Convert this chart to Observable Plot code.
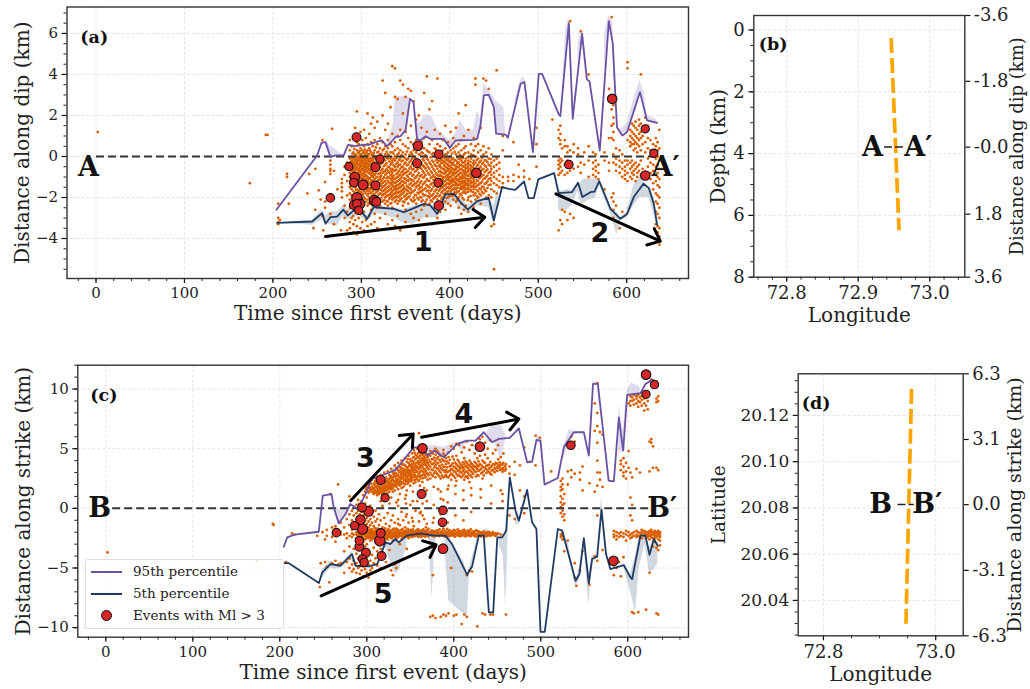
<!DOCTYPE html>
<html><head><meta charset="utf-8">
<script src="https://cdn.jsdelivr.net/npm/d3@7"></script>
<script src="https://cdn.jsdelivr.net/npm/@observablehq/plot@0.6"></script>
<style>
html,body{margin:0;padding:0;background:#fff}
#root{position:relative;width:1030px;height:689px;overflow:hidden}
#root svg{position:absolute;background:transparent;overflow:visible}
#legend{position:absolute;left:85px;top:559px;width:199px;height:70px;box-sizing:border-box;background:rgba(255,255,255,.8);border:1px solid #ddd;border-radius:3px;font:13.5px "DejaVu Serif";color:#222;z-index:5}
#legend div{position:absolute;left:47px;white-space:nowrap}
#legend i{position:absolute;left:5px;width:31px;height:2px}
#legend b{position:absolute;left:15px;top:50px;width:9px;height:9px;border-radius:50%;background:#d62728;border:1px solid #111}
</style></head><body><div id="root"><div id="legend">
<i style="top:11px;background:#6a51a3"></i><div style="top:3px">95th percentile</div>
<i style="top:33px;background:#1f3b63"></i><div style="top:25px">5th percentile</div>
<b></b><div style="top:47px">Events with Ml &gt; 3</div></div></div>
<script>
const eventDay=[265,286,291.5,291.5,292.7,294.5,295,295,297,299,302,316,321,316,315,317,364,363,387.6,387,387.6,430,534.6,583.6,621,621,630.7];
const eventMl=[3.3,3.2,3.3,3.4,3.6,3.4,3.9,3.3,3.2,3.4,3.7,3.4,3.2,3.4,3.9,3.4,3.6,3.4,3.3,3.3,3.6,3.6,3.3,3.6,3.2,3.6,3.2];
const eventDip=[-2.02,-.49,-1.28,-2.37,-1,.94,-2.02,-2.3,-2.63,-2.31,-1.38,-.52,-.13,-1.41,-2.15,-2.21,.52,-.33,.11,-1.28,-2.39,-.8,-.39,2.81,1.35,-.93,.16];
const eventStrike=[-2.04,-1.45,-2.71,-3.22,-.95,.08,-1.73,-4.25,-4.53,-3.72,-.25,2.38,.89,-2.07,-2.71,-4,5.03,1.2,-.17,-1.17,-3.38,5.17,5.29,-4.39,9.56,11.21,10.37];

const a95=[[204,-2.6],[250,.05],[255,.67],[259.5,.7],[265,-.03],[271,.05],[280,.05],[285,.57],[293.4,.5],[303,.58],[308.5,.57],[316,.7],[323.5,.78],[329,.49],[338.6,.94],[344,.98],[350,1.27],[355,2.81],[359,2.65],[363,.86],[367,.78],[372.5,.99],[378,.86],[386,.86],[393,.86],[400,.42],[406.5,.78],[427,.81],[431,.86],[434.7,1.51],[438.5,2.98],[444,3],[449.8,2.41],[452.4,1.11],[463,1.07],[465.6,.91],[480,3.54],[484.4,3.63],[494,.21],[500.6,4.03],[504.4,4.03],[523,2.08],[525,1.97],[534.6,6.5],[539,1.84],[549.6,5.98],[555,3.76],[558,3.66],[569.6,.29],[579.8,6.6],[584.3,5.5],[589,1.43],[595,1.02],[600.5,1.19],[615,3.14],[623,1.76],[634.4,1.64]];
const a5=[[204.8,-3.24],[244.4,-3.17],[255.7,-2.76],[259.5,-3.28],[265,-2.96],[272.7,-2.93],[279.5,-2.59],[284.7,-2.88],[291.5,-2.63],[299,-2.63],[306.6,-3.04],[314,-2.47],[321.7,-2.5],[336.8,-2.55],[348,-2.72],[359.4,-2.52],[370.7,-2.31],[378,-2.39],[385.8,-2.8],[395,-1.85],[404.6,-1.82],[412,-2.23],[420.4,-2.59],[431,-2.18],[444,-2.02],[449.8,-3.12],[459,-1.5],[466.7,-1.58],[474,-1.63],[484,-1.22],[489,-2.03],[495,-2.03],[500,-1.12],[518,-.81],[523,-1.79],[538,-1.74],[545,-1.28],[550,-1.98],[559,-1.74],[563.6,-1.71],[569,-1.2],[581.7,-2.55],[593,-3.04],[600.5,-2.8],[608,-1.98],[619,-1.33],[625,-1.53],[630.7,-2.31],[634.4,-3.32]];
const a95Band=[
[[260,.7,.75],[265,-.03,.5],[272,.05,.3],[280,.05,.05]],
[[329,.49,.7],[336,.9,1.5],[338.6,.94,2.93],[351,1.25,2.94],[355,2.8,2.85],[359,2.6,2.7],[363,.86,1.6],[367,.78,1.7],[373,.99,2.05],[380,.86,1.92],[387,.86,1.27],[393,.86,1.05],[400,.42,.78],[406,.78,1.1],[412,.8,1.76],[419,.8,1.27],[427,.81,1.3],[431,.86,2.24],[434.7,1.51,1.8],[438.5,2.98,3.6],[444,3,3.2],[449.8,2.41,2.9],[452.4,1.11,2.7],[461,1.07,2.4],[463,1.07,1.2]],
[[474,2.5,2.8],[480,3.5,3.7],[484,3.6,3.9],[488,2.5,2.7]],
[[527,2,2.8],[531,4.5,6.2],[534.6,6.5,6.8],[537,3.5,3.8]],
[[545,4.5,5.5],[549.6,5.98,6.3],[552,4.5,5]],
[[575,4,6],[579.8,6.6,6.9],[584.3,5.5,6.6],[587,2.5,3.5]],
[[592,1.1,1.3],[600.5,1.19,1.6],[608,2,2.8],[615,3.14,3.7],[620,2.2,3.1],[623,1.76,2],[634,1.64,1.8]]];
const a5Band=[
[[215,-3.25,-3.2],[244,-3.35,-3.12],[255.7,-3.1,-2.6],[259.5,-3.28,-2.9],[265,-3.3,-2.7],[272.7,-3.4,-2.7],[279.5,-2.9,-2.4],[284.7,-3.1,-2.6],[291.5,-2.9,-2.4],[299,-2.9,-2.5],[306.6,-3.2,-2.9],[314,-2.8,-2.4],[321.7,-2.8,-2.4],[336.8,-3,-2.5],[348,-3.25,-2.6],[359.4,-3.3,-2.4],[370.7,-3,-2.3],[378,-3,-2.3],[385.8,-3,-2.6],[395,-2.4,-1.8],[404.6,-2.2,-1.75],[412,-2.6,-2],[420.4,-2.8,-2.4],[431,-2.4,-2.1],[444,-2.5,-2],[449.8,-3.3,-2.4],[455,-2.2,-1.5]],
[[523,-2.6,-1.6],[527,-2.7,-1.7],[533,-2.6,-1.6],[538,-2.4,-1.7],[545,-1.7,-1.3],[548,-2.3,-1.3],[551,-2.3,-1.1],[559,-2.1,-1.1],[565,-2,-1.1],[569,-1.4,-1.15],[581.7,-2.8,-2.5],[589,-3.8,-2.7],[593,-3.1,-3],[600,-3,-2.7],[608,-2.4,-1.4],[615,-2,-1],[619,-2,-1.2],[625,-2,-1.5],[630.7,-2.8,-2],[634.4,-3.4,-2.9]]];

const c95=[[204.6,-3.22],[208.5,-2.43],[217,-2.21],[244.8,-1.96],[249.4,1.06],[259.4,1.2],[262,.08],[267.8,-1.26],[275.5,-.48],[281,.36],[289.7,-.06],[296.6,.92],[300.5,1.48],[305,2.46],[319.6,2.82],[333,3.22],[354,5.12],[363.7,5.12],[370,4.42],[377,4.84],[388.6,4.28],[404,5.4],[415.4,5.68],[425,5.68],[434.5,6.38],[444,5.54],[451.8,5.82],[464.4,5.9],[474.8,6.71],[484.3,3.86],[490,3.91],[495,5.73],[499.7,5.68],[504.3,1.99],[519.6,2.54],[526.5,5.12],[538,6.38],[549.5,6.38],[555.2,4.42],[560,10.43],[565.6,10.43],[578,2.32],[584,2.27],[589.7,7.63],[594.7,4.84],[599.3,9.51],[614.6,9.65],[620.3,10.43],[628,10.77],[633.7,10.65]];
const c5=[[204.6,-4.59],[210,-4.59],[245,-6.26],[248.7,-5.37],[258.3,-4.67],[269.8,-4.81],[283,-3.83],[287,-4.81],[302.3,-4.87],[312,-4.67],[321.5,-2.85],[327,-2.99],[333,-2.57],[336.8,-2.85],[346,-2.29],[361.7,-2.1],[377,-2.29],[390.4,-2.29],[398,-2.99],[415.3,-5.56],[421,-4.87],[428.7,-2.29],[434.5,-2.29],[440.3,-8.72],[445.3,-8.72],[450,-2.43],[455.6,-2.43],[460.2,-1.87],[464.4,2.6],[471,-.2],[474.8,-1.03],[484.3,1.54],[490,-1.17],[495,-1.73],[499.7,-10.35],[504.6,-10.35],[519.6,-1.73],[524.6,-1.87],[540,-6.07],[544.5,-5.5],[549.5,-2.49],[555.2,-6.29],[559,-4.25],[564.8,-4.05],[569.8,-.11],[575,-3.83],[580,-5.09],[595.4,-4.75],[603,-5.79],[605,-5.93],[614.6,-2.29],[620.3,-2.29],[625,-3.89],[630,-2.57],[634.5,-3.13]];
const c95Band=[
[[262,.08,.08],[268,-1.26,-.1],[275.5,-.48,-.1],[281,.36,.4]],
[[330,3,3.3],[333,3.22,3.8],[337,3.1,3.3]],
[[364,5,5.3],[370,4.42,5.2],[377,4.84,5.3],[389,4.28,5.1],[397,5,5.4],[404,5.4,5.5],[410,4.7,5.6],[415,5.7,5.8]],
[[438,5.6,6.4],[447,5.6,7.2],[454,4,7],[460,5.8,6.2]],
[[495,5.7,6.2],[500,5.4,5.9]],
[[526,4,5.2],[533,5.6,6.6],[538,6.3,6.5]],
[[560,10.4,10.7],[565,10.3,10.5],[568,8,9]],
[[589.7,4.5,8.7],[594.7,4.8,6.5],[599,9.5,9.8],[604,9.4,10.5],[614,9.6,10.2]]];
const c5Band=[
[[248.7,-5.9,-5.2],[258,-5,-4.4],[264,-5.1,-4.7],[270,-5,-4.7],[283,-4.3,-3.6],[287,-4.8,-4.6]],
[[321,-3.2,-2.8],[327,-4.5,-2.9],[333,-5.5,-2.5],[337,-5.2,-2.8],[346,-3.2,-2.3]],
[[371,-2.3,-2.2],[373,-4.6,-2.2],[375,-7.6,-2.2],[378,-3.2,-2.2],[381,-2.3,-2.2]],
[[390,-3.5,-2.3],[394.3,-7.75,-2.3],[398,-8,-2.9],[411.6,-8.87,-4.5],[415.4,-9.14,-5.5],[418,-5.6,-5],[428,-2.5,-2.2]],
[[431,-2.3,-2.2],[434.5,-2.3,-1.8],[438,-2.3,-1.7],[444,-2.4,-2.2]],
[[452,-3,-2.4],[457,-4,-2.4],[459.4,-8.17,-2.1],[461,-6,-1.9],[463,-.5,1.5]],
[[471,-1.4,-.2],[475,-1.3,-1],[480,-.2,.5]],
[[524,-2.2,-1.7],[532,-3.8,-3],[540,-6.6,-6],[544.5,-6,-5],[549.5,-3,-2.4],[555.2,-8.17,-5.5],[559,-4.6,-4],[565,-4.1,-4],[569.8,-.2,1],[575,-3.9,-3.3]],
[[595,-4.8,-4.7],[603,-7,-5.5],[609,-8.72,-4],[613,-5,-2.3],[620,-3,-2.2],[625,-5.5,-3.3],[630,-5.1,-2.5],[634.5,-4.67,-3]]];

const aEvents=[[2,1.2],[174,-1.3],[192,1.05],[194,1.05],[206,-2.3,-3,-3.2,-3.3],[208,-3.1],[216,-.85,-1],[218,-2.3],[239,-1.8],[241,-.85],[246,-3.5],[248,-.6,-2.6],[252,-1.65],[254,-2.1],[256,.8,-2.9],[257,-3.6],[259,-1.25,-2.2,-2.5],[265,-.2,-.4,-.6,-.7,-.85,-2.8],[267,1.35],[269,-.7,-3.3],[273,-1.6],[277,-3.6],[278,-1.1,-1.3,-1.5,-1.7,-2],[281,-.5,-.9,-2.4,-3],[284,-.3,-1.2,-1.9,-2.7,-3.6],
[287,.8,.3,-.1,-.6,-.8,-1,-1.5,-1.8,-2.1,-2.5,-3.2,-3.5],[289,.5,-.2,-.4,-.7,-1.1,-1.4,-1.6,-1.9,-2.2,-3],[291,.9,.2,-.1,-.3,-.5,-.6,-.8,-1.2,-1.7,-2,-2.3,-2.9,-3.3,-3.7],[293,1.4,.1,-.2,-.4,-.7,-.9,-1.1,-1.3,-1.5,-1.8,-2.4,-3.1],
[295,2.2,.7,.3,-.1,-.3,-.5,-.8,-1,-1.2,-1.6,-1.9,-2.1,-2.6,-3.4,-3.8],[297,.6,.2,0,-.2,-.4,-.6,-.7,-.9,-1.1,-1.4,-1.7,-2,-2.5,-3],[299,1.2,.4,.1,-.1,-.3,-.5,-.7,-.8,-1,-1.3,-1.5,-1.8,-2.2,-2.8,-3.5],[301,.8,.3,0,-.2,-.4,-.6,-.9,-1.1,-1.2,-1.6,-1.9,-2.1,-2.4,-3.2],[303,1.3,.5,.2,-.1,-.3,-.5,-.7,-.8,-1,-1.4,-1.7,-2,-2.3,-2.7,-3.6],[305,.9,.1,-.2,-.4,-.6,-.9,-1.1,-1.3,-1.5,-1.8,-2.2,-3.1],[307,2.1,.6,.3,0,-.1,-.3,-.5,-.7,-1,-1.2,-1.4,-1.6,-1.9,-2.1,-2.4,-3.4],[309,1.1,.4,.1,-.2,-.4,-.6,-.8,-1.1,-1.3,-1.7,-2,-2.3,-2.9],
[311,1.6,.7,.2,-.1,-.3,-.5,-.7,-.9,-1.2,-1.4,-1.6,-1.8,-2.2,-2.6,-3.3],[313,1.9,.5,.1,-.2,-.4,-.6,-.8,-1,-1.3,-1.5,-1.7,-2,-2.4],[315,1.4,.8,.3,0,-.3,-.5,-.9,-1.1,-1.4,-1.6,-1.9,-2.1,-2.3,-2.8,-3.2],[318,1.7,.6,.2,-.1,-.4,-.6,-.7,-1,-1.2,-1.5,-1.7,-2,-2.2,-2.5,-3.5],[321,.9,.4,.1,-.2,-.5,-.8,-1,-1.1,-1.3,-1.6,-1.8,-2.1,-2.4,-3],[324,2,3.7,.7,.3,0,-.3,-.6,-.8,-1.1,-1.3,-1.5,-1.7,-1.9,-2.2],[327,3.1,1.3,.5,.1,-.2,-.4,-.7,-.9,-1.2,-1.4,-1.6,-1.8,-2,-2.3,-2.8],[330,1.6,.8,.4,.1,-.1,-.5,-.7,-1,-1.2,-1.5,-1.7,-1.9,-2.2,-2.4,-3.3],[333,2.4,.6,.2,-.1,-.4,-.6,-.9,-1.1,-1.3,-1.6,-1.8,-2,-2.3],[335,4.4,1.1,.5,.2,-.2,-.3,-.6,-.8,-1,-1.2,-1.4,-1.7,-1.9,-2.1,-2.5,-3.1],[338,4.3,2.9,.7,.3,0,-.2,-.5,-.7,-1.1,-1.3,-1.5,-1.6,-1.8,-2,-2.2,-3.4],[341,2.8,1,.4,.1,-.3,-.5,-.8,-1,-1.2,-1.4,-1.6,-1.8,-2,-2.3,-2.9],[344,3.7,1.3,.8,.3,-.1,-.4,-.6,-.9,-1.1,-1.3,-1.5,-1.7,-1.9,-2.1,-3.6],[347,3.5,2.1,.6,.2,-.2,-.5,-.7,-.9,-1.2,-1.4,-1.6,-1.8,-2.2,-2.4],[350,2.9,1.2,.5,.1,-.1,-.3,-.6,-.8,-1.1,-1.3,-1.6,-1.9,-2.1,-2.6,-3.2],[353,3.3,.9,.4,-.1,-.4,-.7,-1,-1.2,-1.5,-1.7,-2,-2.3],[356,3.2,1.5,.7,.2,-.2,-.5,-.8,-1.1,-1.3,-1.6,-1.8,-2.1,-2.8],[359,2.7,.6,.3,0,-.3,-.6,-.9,-1.2,-1.4,-1.7,-2,-2.2,-3],[362,1.8,.8,.2,-.1,-.5,-.7,-1,-1.3,-1.5,-1.9,-2.3,-2.7],
[365,2,.5,.1,-.2,-.4,-.8,-1.1,-1.4,-1.6,-1.8,-2.1,-3.1],[368,1.4,.7,.2,-.3,-.6,-.9,-1.2,-1.5,-1.7,-2,-2.2,-2.6],[371,3.1,.9,.4,0,-.2,-.5,-.8,-1,-1.3,-1.6,-1.9,-2.4],[374,3.9,1.2,.3,-.1,-.4,-.7,-1.1,-1.4,-1.7,-2.1,-2.9],[377,2.3,.6,.2,-.3,-.6,-.9,-1.2,-1.5,-1.8,-2,-2.3],[380,2.7,.8,.1,-.2,-.5,-.8,-1,-1.3,-1.6,-1.9,-2.2,-3.3],[383,1.3,.4,0,-.4,-.7,-1,-1.2,-1.4,-1.7,-2,-2.5],[386,3.8,.6,.2,-.1,-.3,-.6,-.9,-1.1,-1.3,-1.5,-1.8,-2.1,-3],
[389,1.1,.5,.1,-.2,-.4,-.5,-.7,-.9,-1.1,-1.2,-1.4,-1.6,-1.9,-2.2,-2.7],[392,.8,.3,0,-.2,-.3,-.6,-.8,-1,-1.1,-1.3,-1.5,-1.7,-2,-2.3],[395,1.5,.4,.1,-.1,-.3,-.5,-.7,-.8,-1,-1.2,-1.4,-1.6,-1.8,-2.2,-2.6],[398,.7,.2,-.1,-.2,-.4,-.6,-.7,-.9,-1,-1.1,-1.3,-1.5,-1.7,-2,-2.3],[401,1.2,.3,0,-.2,-.3,-.5,-.7,-.8,-1,-1.2,-1.3,-1.5,-1.7,-1.8,-2.4],[404,.9,.4,-.1,-.3,-.4,-.6,-.8,-.9,-1.1,-1.2,-1.4,-1.6,-1.9,-2.1],[407,1.4,.5,.1,-.2,-.5,-.6,-.8,-1,-1.1,-1.3,-1.4,-1.6,-1.8,-2.2],[410,2.1,.6,.2,-.1,-.3,-.5,-.7,-.9,-1.1,-1.2,-1.4,-1.7,-2,-2.5],[413,.8,.3,0,-.2,-.4,-.6,-.8,-1,-1.1,-1.3,-1.5,-1.6,-1.9,-2.3,-2.8],[416,1,.4,.1,-.3,-.5,-.7,-.8,-1,-1.2,-1.3,-1.5,-1.7,-2.1,-2.6],[418,2.5,.5,-.1,-.4,-.6,-.8,-.9,-1.1,-1.3,-1.4,-1.6,-1.8,-2.4],[421,1.3,.2,-.2,-.4,-.6,-.7,-.9,-1.1,-1.2,-1.4,-1.6,-2,-2.7],[424,.6,.1,-.1,-.5,-.7,-.9,-1,-1.2,-1.3,-1.5,-1.7,-2.2],[427,.9,.3,-.2,-.4,-.6,-.9,-1.1,-1.2,-1.4,-1.6,-1.9,-2.5],
[429,3.8,3.5,.5,0,-.3,-.6,-.8,-1,-1.3,-1.5,-1.8,-2.1],[432,.6,.2,-.1,-.4,-.7,-.9,-1.2,-1.4,-1.7,-2],[435,1.4,.3,-.2,-.5,-.8,-1,-1.3,-1.6,-1.9,-2.3],[438,3.8,.5,.1,-.3,-.6,-.9,-1.1,-1.5,-1.8],[441,3.7,.2,-.2,-.5,-.7,-1,-1.3,-1.7,-2],[444,3.3,.4,-.1,-.4,-.8,-1.1,-1.4,-1.9],[447,.1,-.3,-.6,-.9,-1.2,-1.6,-2,-3.4],[450,-.2,-.5,-.8,-1,-1.3,-1.7,-3.3,-5.5],[453,4.2,-.1,-.4,-.7,-1.1,-1.4,-1.8],[456,-.3,-.6,-.9,-1.2,-1.5],[460,1,.3,-1,-1.3,-1.5],[466,-1,-1.2],[472,.7,-.9,-1.2],[478,-.4,-1],[484,-.7,-1],[490,-1.1],[498,.6,1.4,-.5],
[516,1.8],[523,1.3,.9,-.2,-.4,-.6,-.9,-3.6],[525,1.5,1.1,.8,.6,-.1,-.3,-.5,-.8,-3.1],[527,.4,-.2,-.7,-2.6,-3.3],[530,.8,.5,-.4,-.9,-2.7],[533,.5,.2,-.2,-.5,-.8,-3.1],[536,6.6,.3,-.3,-.7,-2.8],[540,.6,.2,-.6,-3],[545,.4,.1,-.5],[548,6.1,-.3,-.8],[552,.2,-.4],[557,4,.5,-.2,-1],[562,.2,-.3,-.6,-.9],[565,.1,-.2,-.5,-.7,-1],[568,-.4,-.8,-1.1],[575,.2,-.2,-1.6],[580,3.3,.9,-.3,-.7],[583,6.8,2.3,1.5,.9,-2],[585,2.5,1.9,1.6,1.2,.8,.1,-.3,-1.8,-2.2,-2.6,-3],[588,.4,-.1,-.4,-.7,-2.4],[592,.3,-.2,-.5,-.8,-3.5],[595,.1,-.3,-.6,-1,-2.7],[598,-.2,-.5,-.7,-.9,-1.1],[601,4.6,4.3,.8,-.2,-.4,-.8,-1.2],[604,1.3,1,.7,.5,-.3,-.6,-1],[606,1.6,1.2,.9,.6,-.2,-.5,-.8,-1.1],[608,1.5,1.1,.8,.6,.3,-.4,-.7,-.9],[610,1.7,1.4,1,.7,.4,-.3,-.6,-1.2],[612,1.3,.9,.6,.2,-.5,-.8,-1],[614,1.8,1.5,1.1,.8,.5,-.4,-.7],[616,4,1.6,1.2,.9,.3,-.2,-.9],[618,1.4,1,.6,-.6],[621,1.9,1.2,.7,.2],[624,1.5,.9,.4,-.1,-.5],[627,.8,.3,-.3,-.8,-1.1],[630,.6,.1,-.4,-.7,-1.3,-1.6],[633,.9,.5,.2,-.1,-.5,-.9,-1.2,-1.8,-2.2,-2.7,-3.3],[635,.7,.3,0,-.4,-.8,-1,-1.4,-1.9,-2.3,-2.8,-3.4,-3.7],[637,1.3,.4,-.2,-.6,-1.1,-1.5,-2,-2.5,-3,-3.5,-3.9,-4.3]];
const aDense=[[288,-.05,-.27,-.44,-.62,-.93,-1.17,-1.38],[290,.13,-.09,-.24,-.55,-.72,-.96,-1.27],[292,.37,-.07,-.33,-.48,-.66,-.87,-1.04,-1.46,-1.92],[294,.04,-.16,-.35,-.57,-.83,-1.06,-1.38,-1.64],[296,.16,-.06,-.23,-.43,-.64,-.92,-1.13,-1.33,-1.74,-2.27],[298,.26,-.03,-.18,-.37,-.56,-.76,-.97,-1.22,-1.62],[300,.09,-.12,-.29,-.47,-.68,-.85,-1.07,-1.42,-1.73,-2.28],[302,.18,-.04,-.26,-.45,-.63,-.84,-1.03,-1.28,-1.57,-1.83],[304,.33,.06,-.17,-.36,-.53,-.74,-.93,-1.16,-1.46,-2.06],[306,.22,-.08,-.31,-.49,-.72,-.96,-1.19,-1.36,-1.68],[308,.11,-.19,-.38,-.59,-.81,-1.08,-1.27,-1.52,-1.81,-2.26],[310,.28,-.07,-.24,-.46,-.66,-.86,-1.04,-1.33,-1.56],[312,.07,-.15,-.35,-.57,-.78,-.95,-1.17,-1.47,-1.92,-2.34],[314,.17,-.09,-.28,-.52,-.71,-.91,-1.22,-1.43,-1.84],[316.5,.44,-.12,-.37,-.64,-.82,-1.03,-1.27,-1.53,-1.76,-2.17],[319.5,.24,-.03,-.27,-.54,-.86,-1.14,-1.37,-1.63,-1.86,-2.27],[322.5,.13,-.36,-.68,-.94,-1.18,-1.42,-1.62,-1.83,-2.03],[325.5,.36,-.14,-.47,-.74,-1.02,-1.24,-1.46,-1.66,-1.84,-2.13],[328.5,.22,-.06,-.34,-.62,-.83,-1.07,-1.32,-1.54,-1.73,-1.93,-2.16],[331.5,.04,-.24,-.53,-.78,-1.03,-1.27,-1.44,-1.64,-1.87,-2.06],[334,-.06,-.33,-.72,-.92,-1.14,-1.34,-1.53,-1.76,-1.94,-2.27],[336.5,.13,-.13,-.43,-.67,-.93,-1.08,-1.26,-1.46,-1.63,-1.84,-2.03],[339.5,-.08,-.36,-.64,-.86,-1.04,-1.24,-1.43,-1.56,-1.72,-1.93,-2.14],[342.5,.17,-.18,-.42,-.72,-.94,-1.15,-1.36,-1.54,-1.74,-1.96,-2.18],[345.5,.06,-.24,-.53,-.77,-1.02,-1.23,-1.44,-1.66,-1.83,-2.04],[348.5,-.04,-.36,-.62,-.83,-1.06,-1.27,-1.52,-1.72,-1.96,-2.23],[351.5,.24,-.16,-.43,-.74,-.94,-1.17,-1.44,-1.64,-1.83,-2.06],[354.5,.08,-.27,-.58,-.85,-1.12,-1.36,-1.55,-1.77,-1.94],[357.5,.12,-.12,-.36,-.63,-.94,-1.17,-1.44,-1.72,-2.17],[360.5,-.06,-.42,-.74,-1.06,-1.32,-1.63,-1.87,-2.12],[363.5,.32,-.28,-.62,-.92,-1.22,-1.43,-1.76,-2.03],[366.5,.08,-.33,-.57,-.97,-1.28,-1.52,-1.72,-1.97],[369.5,.16,-.13,-.44,-.72,-1.03,-1.37,-1.64,-1.83,-2.14],[372.5,.07,-.32,-.58,-.91,-1.23,-1.55,-1.88,-2.22],[375.5,.24,-.17,-.52,-.83,-1.17,-1.46,-1.66,-1.94],[378.5,-.04,-.38,-.73,-1.04,-1.36,-1.67,-1.92,-2.14],[381.5,.16,-.27,-.62,-.92,-1.14,-1.47,-1.82,-2.06],[384.5,.33,-.18,-.47,-.83,-1.07,-1.36,-1.62,-1.94],[387.5,.04,-.22,-.46,-.74,-.97,-1.22,-1.44,-1.67,-1.93],[390.5,.18,-.13,-.32,-.56,-.77,-.96,-1.16,-1.34,-1.52,-1.76,-2.06],[393.5,-.06,-.24,-.44,-.63,-.83,-1.03,-1.22,-1.42,-1.63,-1.84],[396.5,.12,-.17,-.36,-.54,-.72,-.92,-1.13,-1.32,-1.52,-1.73,-2.03],[399.5,-.04,-.26,-.47,-.63,-.83,-1.02,-1.17,-1.37,-1.57,-1.94],[402.5,.14,-.12,-.38,-.57,-.74,-.93,-1.12,-1.26,-1.43,-1.62,-1.91],[405.5,.22,-.18,-.43,-.67,-.84,-1.03,-1.23,-1.37,-1.53,-1.74],[408.5,-.03,-.27,-.36,-.53,-.73,-.94,-1.16,-1.34,-1.52,-1.72,-2.13],[411.5,.07,-.13,-.42,-.62,-.82,-1.02,-1.23,-1.37,-1.56,-1.83],[414.5,-.08,-.28,-.47,-.67,-.92,-1.06,-1.22,-1.42,-1.57,-1.77,-2.03],[417.5,.16,-.23,-.53,-.72,-.86,-1.04,-1.23,-1.37,-1.53,-1.74],[420.5,-.04,-.33,-.52,-.74,-.96,-1.16,-1.32,-1.52,-1.72,-2.13],[423.5,-.26,-.42,-.62,-.83,-1.07,-1.26,-1.42,-1.63,-1.93],[426.5,.07,-.32,-.53,-.77,-1.03,-1.27,-1.47,-1.74],[430.5,-.17,-.46,-.72,-.94,-1.17,-1.43,-1.64,-1.93],[433.5,-.28,-.56,-.83,-1.07,-1.33,-1.56,-1.82],[436.5,-.07,-.36,-.66,-.94,-1.23,-1.47,-1.73],[439.5,-.18,-.43,-.76,-1.07,-1.34,-1.62],[442.5,-.27,-.63,-.93,-1.22,-1.54],[446,-.12,-.46,-.74,-1.06,-1.37]];

const cEvents=[[2,-3.7],[174,-4.4],[192,-1.3],[193,-1.4],[207,-4.5],[214,-2.1],[217,-2.2],[243,-2.3],[246,-6.6],[247,-4.6],[249,-2],[252,-2.6,-4.5],[254,-1.8,-2.3,-4.9],[257,-6.2],[258,1.2],[260,-1.6,-2.4,-4.6],[264,-1.5,-1.9,-2.3,-2.8,-4.4],[267,2,-4.7],[270,-1.2,-2,-2.2,-4.6],[274,-1.6,-2.2,-3.6,-5.4],[277,-.9,-2.1,-2.5,-4.5],[280,1,-.5,-1.4,-2.3,-3.2,-4.2,-5],[283,-.2,-1,-1.8,-2.1,-2.4,-4.7,-5.3],[285,-.6,-1.2,-1.6,-2.2,-3.4,-4.4,-5.1],
[288,.3,-.4,-.9,-1.5,-2,-2.2,-2.5,-3.1,-3.8,-4.6,-5.4],[290,.7,-.2,-.7,-1.3,-1.8,-2.1,-2.3,-2.7,-3.5,-4.2,-5],[292,.1,-.5,-1.1,-1.6,-1.9,-2.2,-2.4,-3,-4,-4.8,-5.5],[294,.6,-.3,-.8,-1.4,-2,-2.1,-2.3,-2.6,-3.3,-4.5,-5.2],[296,1.1,-.1,-.6,-1.2,-1.7,-2,-2.2,-2.5,-2.8,-3.7,-4.9,-5.7],[298,1.4,.4,-.4,-1,-1.5,-1.9,-2.1,-2.3,-2.6,-3.2,-4.3,-5.1],[300,1.8,.9,-.2,-.8,-1.3,-1.8,-2,-2.2,-2.4,-3,-4.1,-5.4],[302,2,1.3,-.6,-1.1,-1.6,-2,-2.1,-2.3,-2.5,-3.5,-4.7,-5.8],[304,2.2,1.6,.2,-.4,-.9,-1.4,-1.9,-2.1,-2.2,-2.4,-2.7,-4.4,-5.2],[306,2.4,1.8,1.4,-.3,-1.2,-1.8,-2,-2.2,-2.3,-2.6,-3.9,-5],
[308,2.6,2,1.6,1.2,-.7,-1.5,-2,-2.1,-2.3,-2.5,-3.3,-4.6],[310,2.3,1.9,1.5,1.3,-.2,-1.1,-1.9,-2.1,-2.2,-2.4,-2.8,-4.2],[312,2.7,2.1,1.7,1.4,1.1,-.9,-1.7,-2,-2.2,-2.3,-2.5,-3.6,-4.8],[314,2.4,2,1.8,1.5,1.2,-.5,-1.4,-2,-2.1,-2.3,-2.6,-3.1],[316,2.8,2.2,1.9,1.6,1.3,.6,-1,-1.9,-2.1,-2.2,-2.4,-3.4,-5],[318,2.5,2.1,1.7,1.5,1.2,.2,-1.6,-2,-2.2,-2.3,-2.5,-4.1],[320,3,2.3,2,1.8,1.6,1.4,-.8,-1.8,-2.1,-2.2,-2.4,-2.7],[322,2.6,2.2,1.9,1.7,1.5,.7,-1.3,-2,-2.1,-2.3,-2.5,-4.5],[324,3.1,2.4,2.1,1.8,1.6,1.3,-.4,-1.9,-2.2,-2.3,-2.6],[326,2.8,2.5,2,1.7,1.4,.4,-1.5,-2,-2.1,-2.4,-3.5],[328,3.3,2.7,2.3,1.9,1.6,.9,-1,-1.9,-2.2,-2.3,-2.5,-5.2],[330,3,2.6,2.4,2,1.7,1.4,-.6,-1.8,-2.1,-2.3,-2.7,-5.6],[332,3.6,3,2.7,2.2,1.9,1.5,-1.2,-2,-2.2,-2.4,-4.7],[334,3.4,2.9,2.5,2.1,1.8,.5,-1.7,-2.1,-2.3,-2.5,-5],
[336,3.8,3.2,2.8,2.4,2,1.6,-.9,-1.9,-2.1,-2.2,-2.4],[338,3.5,3.1,2.6,2.3,1.9,1.2,-1.4,-2,-2.2,-2.3,-3],[340,4,3.4,3,2.7,2.2,1.7,-.3,-1.8,-2.1,-2.3,-2.6],[342,3.7,3.3,2.9,2.5,2.1,1.8,-1,-1.9,-2,-2.2,-2.4],[344,4.2,3.6,3.2,2.8,2.4,2,.8,-1.6,-2.1,-2.2,-2.3],[346,3.9,3.4,3.1,2.6,2.3,1.5,-.5,-2,-2.1,-2.3,-3.4],[348,4.4,3.8,3.5,3,2.7,2.2,-1.2,-1.9,-2.1,-2.2,-2.5],[350,4.1,3.6,3.2,2.9,2.5,1.9,.3,-1.8,-2,-2.2,-2.3],[352,4.6,4,3.7,3.3,2.8,2.4,-.8,-1.9,-2.1,-2.2,-2.4],[354,4.9,4.3,3.9,3.4,3,2.6,2.1,-1.5,-2,-2.2,-2.3],[356,4.5,4.1,3.6,3.2,2.7,2.2,-.2,-2,-2.1,-2.3],[358,5,4.4,3.8,3.5,3.1,2.6,.6,-1.8,-2,-2.2],[360,6.3,4.7,4.2,3.7,3.3,2.9,2.3,-1.1,-1.9,-2.1,-2.3],[362,4.9,4.5,4,3.6,3.1,2.5,-.3,-2,-2.2,-2.4],[364,4.6,4.2,3.8,3.4,2.8,2.2,.4,.9,-.6,-2,-2.1,-2.3],[366,4.8,4.3,3.9,3.3,2.9,1.7,-.9,-1.9,-2.1,-2.3],[368,4.5,4,3.6,3.1,2.6,-1.6,-2,-2.2],[370,4.3,3.8,3.4,2.9,2.4,-1.9,-2.1,-2.3],
[373,4.8,4.4,3.9,3.5,3,2.5,-2,-2.2,-9.1],[376,4.6,4.1,3.7,3.2,2.7,-1.2,-1.9,-2.1,-2.3,-5.6,-9],[379,5,4.5,4,3.6,3.1,2.6,-2,-2.2,-9.2],[382,4.7,4.3,3.8,3.3,2.8,1.6,-1.9,-2.1,-2.3],[385,4.4,3.9,3.4,3,2.5,-2,-2.2,-9.1],[388,4.9,4.6,4,3.5,3.2,2.6,.7,-1.7,-2.1,-2.3,-8.9],[391,4.2,3.7,3.2,2.8,-2,-2.2,-9],[394,4.7,4.3,3.8,3.1,2.6,1.9,-1.9,-2.1,-2.3,-8.8],[397,5.2,3.6,3.3,2.9,2.4,-2,-2.2,-5],[400,5,4.1,3.5,3.1,2.7,-1.8,-2.1,-2.3,-9],[403,5.4,4.4,3.7,3.3,2.9,2.3,-2,-2.2,-8.9],[406,5.3,3.9,3.5,3.2,2.8,-1.9,-2.1,-2.3],[409,4.7,3.6,3.4,3,2.6,-2,-2.2,-9.7],[412,5.1,4.2,3.7,3.3,2.9,2.4,-1.8,-2.1,-2.3,-8.9],[415,5.6,3.8,3.5,3.1,2.7,-2,-2.2,-5.6,-9.1],[418,4.9,4,3.6,3.2,2.8,2.2,-1.9,-2.1,-2.3,-5.2],[421,5.3,3.7,3.4,3,2.6,-2,-2.2,-5.3],[424,4.6,3.9,3.5,3.1,-2,-2.1,-2.3],[427,5.2,4.2,3.6,3.3,2.8,-1.9,-2.2,-9.9],[430,5.8,4.4,3.7,3.2,-2,-2.1,-2.3],[433,6,4,3.5,3,2.5,-2,-2.2,-8.8],[436,5.5,4.5,3.8,3.4,-2.1,-2.3,-8.9],[439,5,4.2,3.6,3.1,-2,-2.2],[442,5.7,3.9,3.4,2.9,-2.1,-2.3,-8.9],[445,4.6,3.7,3.2,-2,-2.2,-8.9],[448,4.9,3.8,3.3,-2.1,-2.3],[451,5.3,4.1,3.6,3.4,-2.1],[454,4.3,3.7,3.3,1.5,-2.2],[457,4.6,3.8,3.4,3.2],[460,3.7,3.3,-8.9],[464,3.5,2.9,-.6],[470,2.8,3.9,-.9],[476,1.5,3.6],[481,5.1,1,-.4],[487,3.9],[494,6.1,3.6],[499,5.9],
[512,3.1],[523,2.3,1.8,1.5,1,.5,.1,-.4,-2.2,-2.4],[525,2.5,2,1.6,.8,.3,-.2,-.7,-2.1,-2.3,-2.6],[527,1.2,.4,-.5,-1,-3.6],[531,3.1,2,-2.7],[535,6,3.2,2.6],[539,5.6,2.9,-4.6,-5.8],[541,-6.5],[545,3,2.4,-5.2],[548,3.5,1.5,-3.6],[556,2.1,-6.4],[562,8.8,6.5,1.4,-4],[565,10.5,8,6.9,5.5,4,3,1.9,-.6,-4.4],[568,6.4,3,2.4],[571,6.2,1.8,-3.5],[584,-1.9,-2.2,-2.4,-4.8,-5.6],[587,-2,-2.3,-2.6,-5],[590,-2.1,-2.4,-4.5],[592,4,3.7,3.2,-2,-2.3,-5.7],[595,4.2,3.5,3,2.7,-2.1,-2.4,-4.1],[598,3.8,3.1,2.5,-1.9,-2.2,-2.7],[601,8.8,4.8,3.4,-2,-2.3],[603,9.4,9,8.6,3,.9,-.6,-2.2,-2.5],[605,9.3,9,2.6,.3,-1,-2.1,-2.4,-8.7],[607,9.5,9.1,8.7,-2,-2.3,-8.8],[610,9.4,9.2,8.8,3.3,-1.9,-2.2,-2.4],[612,9.5,9,8.5,-2,-2.3,-8.7],[614,9.3,8.9,3,-2.1,-2.4],[616,9.4,9.1,8.6,-1.8,-2,-2.2,-2.5],[619,9.2,8.8,8.2,-1.9,-2.1,-2.3],[621,11.5,10.9,8.6,-2,-2.2,-2.5,-8.5],[623,11,9,8.3,-2,-2.2,-2.4],[625,11.2,5.6,3.1,-1.9,-2.1,-2.3,-2.6,-5.4],[627,10.8,5.8,5.5,-1.8,-2,-2.2,-2.4],[629,10.7,5.2,3.4,-2,-2.2,-2.5,-3.2],[631,-1.9,-2.1,-2.3,-2.5,-2.8],[633,9.2,8.9,3.4,-2,-2.2,-2.4,-3.3,-8.8],[635,9.4,9,3.2,-1.9,-2.1,-2.3,-2.6,-3.5,-8.9],[637,-2,-2.2,-2.4,-2.7,-3.1]];
const cDense=[[291,.37,-1.76,-2.04,-2.32,-4.93],[295,-1.57,-1.93,-2.17,-2.44,-4.66],[299,1.63,-1.62,-2.06,-2.27,-2.53],[303,1.77,1.42,-1.83,-2.14,-2.36],[305,2.07,1.56,-1.74,-2.03,-2.27,-2.48],[307,1.67,1.33,-1.92,-2.16,-2.42],[309,2.13,1.74,1.46,-1.66,-2.04,-2.26],[311,2.46,1.82,1.37,-1.87,-2.13,-2.38],[313,1.94,1.56,1.26,-1.73,-2.07,-2.43],[315,2.27,1.73,1.43,-1.84,-2.16,-2.33],[317,2.06,1.62,1.36,-1.76,-2.04,-2.27,-2.46],[319,1.84,1.57,1.27,-1.93,-2.13,-2.36],[321,2.14,1.72,1.46,-1.67,-2.04,-2.32],[323,2.36,1.83,1.56,-1.86,-2.17,-2.42],[325,2.26,1.93,1.64,-1.74,-2.06,-2.27],[327,2.63,2.14,1.77,-1.92,-2.14,-2.38],[329,2.47,2.06,1.72,-1.83,-2.03,-2.26,-2.47],[331,2.83,2.26,1.87,-1.71,-2.13,-2.36],[333,2.67,2.33,1.96,-1.88,-2.06,-2.28],[335,3.26,2.76,2.26,-1.76,-2.04,-2.42],[337,3.07,2.63,2.14,-1.92,-2.17,-2.33],[339,3.33,2.87,2.42,2.03,-1.84,-2.06,-2.27],[341,3.66,3.14,2.56,2.16,-1.73,-2.13,-2.37],[343,3.04,2.73,2.34,-1.94,-2.07,-2.26],[345,3.47,2.96,2.63,2.22,-1.86,-2.04,-2.38],[347,4.13,3.27,2.83,2.44,2.06,-1.72,-2.16,-2.33],[349,3.66,3.13,2.76,2.36,-1.93,-2.07,-2.27],[351,3.93,3.44,3.04,2.62,2.26,-1.84,-2.14,-2.36],[353,4.26,3.54,3.14,2.66,-1.76,-2.03,-2.27],[355,4.66,3.76,3.26,2.83,2.36,-1.93,-2.17,-2.34],[357,4.23,3.43,3.03,2.47,-1.87,-2.06,-2.26],[359,4.63,3.93,3.37,2.76,2.37,-1.74,-2.13,-2.38],[361,4.36,3.86,3.43,3.04,2.66,-1.93,-2.04,-2.27],[363,4.73,4.14,3.56,3.17,2.74,-1.84,-2.16,-2.33],[365,4.44,4.03,3.63,3.07,2.53,-1.76,-2.07,-2.26],[367,4.63,4.14,3.72,3.23,2.76,-1.93,-2.14,-2.37],[369,4.27,3.87,3.46,2.94,-1.84,-2.06,-2.28],[371,4.53,4.06,3.64,3.26,2.77,-1.73,-2.13,-2.34],[374.5,4.63,4.13,3.73,3.26,2.83,-1.86,-2.07,-2.26],[377.5,4.26,3.83,3.44,2.94,-1.93,-2.16,-2.36],[380.5,4.84,4.17,3.76,3.36,2.92,-1.84,-2.04,-2.27],[383.5,4.53,4.06,3.56,3.14,2.66,-1.76,-2.13,-2.33],[386.5,4.13,3.67,3.26,2.76,-1.92,-2.06,-2.27],[389.5,4.43,3.94,3.46,3.04,2.67,-1.87,-2.16,-2.36],[392.5,3.93,3.43,3.03,2.63,-1.73,-2.04,-2.27],[395.5,4.07,3.54,3.16,2.77,-1.84,-2.13,-2.33],[398.5,4.33,3.76,3.24,2.83,-1.93,-2.06,-2.26],[401.5,3.83,3.43,3.06,2.56,-1.86,-2.14,-2.37],[404.5,4.06,3.56,3.14,2.73,-1.76,-2.07,-2.28],[407.5,3.73,3.37,3.03,2.66,-1.93,-2.16,-2.34],[410.5,3.86,3.46,3.16,2.76,-1.84,-2.04,-2.26],[413.5,3.93,3.53,3.07,2.63,-1.94,-2.13,-2.36],[416.5,3.66,3.34,2.96,2.53,-1.87,-2.06,-2.27],[419.5,3.83,3.47,3.13,2.74,-1.76,-2.14,-2.33],[422.5,3.56,3.26,2.87,-1.93,-2.07,-2.26],[425.5,3.77,3.43,3.06,2.66,-1.84,-2.16,-2.37],[428.5,3.93,3.53,3.13,2.74,-1.94,-2.04,-2.27],[431.5,3.63,3.33,2.93,-2.06,-2.24,-2.36],[434.5,3.86,3.44,3.14,2.76,-1.96,-2.13,-2.28],[437.5,3.56,3.26,2.96,-2.04,-2.17,-2.34],[440.5,3.66,3.33,3.03,-1.97,-2.16,-2.27],[443.5,3.53,3.17,2.83,-2.07,-2.24],[447,3.63,3.36,3.03,-2.14,-2.27],[450,3.76,3.46,3.14,-2.17],[453,3.86,3.53,3.22],[456,3.66,3.33,3.07],[459,3.53,3.16],[336,.7,.2,-1.3],[345,1.1,.4,-.7],[353,1.4,.6,-1.1],[361,1.9,.9,-.4],[369,1.5,.6,-1.3],[377,1.8,.3,-.8],[385,1.4,.8,-.5],[393,1.6,.5,-1.2],[402,1.9,1.2,-.6],[411,1.5,.7,-1],[420,1.7,1.1,-.3],[431,1.6,.9],[443,1.9,.4],[456,1.2,.6]];

const arrowsA=[[259.5,-3.9,439.6,-2.96],[520,-1.82,638,-4.13]];
const arrowsC=[[281.3,.64,353.3,6.24],[363,5.96,474.8,7.49],[247.5,-7.33,379.7,-3.05]];
const numbersA=[[370,-4.18,"1"],[569.6,-3.77,"2"]];
const numbersC=[[298.5,4.22,"3"],[411.6,7.86,"4"],[318.8,-7.19,"5"]];
const endsA=[[-8.5,-.52,"A"],[644,-.52,"A′"]];
const endsC=[[-7.2,0,"B"],[639.5,0,"B′"]];
const sectionB=[[72.946,.26],[72.957,6.48]];
const sectionD=[[72.947,20.0299],[72.957,20.1315]];
const crossB=[[72.936,3.79],[72.963,3.79]];
const crossD=[[72.932,20.0815],[72.961,20.0815]];
const endsB=[[72.92,3.79,"A"],[72.984,3.79,"A′"]];
const endsD=[[72.902,20.0815,"B"],[72.985,20.0815,"B′"]];
const rightTicksB=[-.47,1.66,3.79,5.96,8],rightLabelsB=["-3.6","-1.8","-0.0","1.8","3.6"];
const rightTicksD=[20.138,20.1096,20.0814,20.053,20.0247],rightLabelsD=["6.3","3.1","0.0","-3.1","-6.3"];

const SERIF='"DejaVu Serif"';
const root=document.getElementById("root");
const rows=c=>c.flatMap(([d,...vs])=>vs.map(v=>({d,v})));
const bands=b=>b.flatMap((p,i)=>p.map(([d,lo,hi])=>({i,d,lo,hi})));
const ev=vals=>eventDay.map((d,i)=>({d,v:vals[i],ml:eventMl[i]}));
const seq=(a,b,s)=>d3.range(Math.round((b-a)/s)+1).map(i=>+(a+i*s).toFixed(4));
const gridS={stroke:"#e4e4e4",strokeOpacity:1,strokeWidth:1,strokeDasharray:"3,2"};
function axes(o){
  const m=[
    Plot.axisX({ticks:o.xMinor,tickSize:3,tickFormat:()=>"",label:null,stroke:"#222"}),
    Plot.axisY({ticks:o.yMinor,tickSize:3,tickFormat:()=>"",label:null,stroke:"#222"}),
    Plot.axisX({ticks:o.xTicks,tickSize:5,tickPadding:4,fontSize:o.fx,fill:"#222",stroke:"#111",strokeWidth:1.2,tickFormat:o.xFmt,label:o.xLabel,labelAnchor:"center",labelArrow:"none",labelOffset:o.xOff}),
    Plot.axisY({ticks:o.yTicks,tickSize:5,tickPadding:4,fontSize:o.fy,fill:"#222",stroke:"#111",strokeWidth:1.2,tickFormat:o.yFmt,label:o.yLabel,labelAnchor:"center",labelArrow:"none",labelOffset:o.yOff})];
  return m;
}
function place(svg,left,top,sizes){
  svg.style.left=left+"px";svg.style.top=top+"px";
  svg.querySelectorAll('[aria-label="x-axis label"] text').forEach(t=>{t.style.fontSize=sizes.x+"px"});
  svg.querySelectorAll('[aria-label="y-axis label"] text').forEach((t,i)=>{t.style.fontSize=(sizes.y[i]||sizes.y[0])+"px"});
  root.appendChild(svg);
}
function timePanel(o){
  const R=[...rows(o.events),...rows(o.dense)];
  return Plot.plot({width:700,height:o.height,marginLeft:o.ml,marginRight:12,marginTop:o.mt,marginBottom:o.mb,
    style:{fontFamily:SERIF,background:"transparent"},
    x:{domain:o.xDomain},y:{domain:o.yDomain},r:{type:"linear",domain:[3,4],range:[3.8,5.4]},
    marks:[
      Plot.gridX({ticks:o.xTicks,...gridS}),Plot.gridY({ticks:o.yTicks,...gridS}),
      Plot.areaY(bands(o.band95),{x:"d",y1:"lo",y2:"hi",z:"i",fill:"#6a51a3",fillOpacity:.2,curve:"linear"}),
      Plot.areaY(bands(o.band5),{x:"d",y1:"lo",y2:"hi",z:"i",fill:"#1f3b63",fillOpacity:.2,curve:"linear"}),
      Plot.dot(R,{x:"d",y:"v",r:1.4,fill:"#d95f02",stroke:null}),
      Plot.line(o.dash,{x:d=>d[0],y:d=>d[1],stroke:"#333",strokeWidth:2,strokeDasharray:"8,4",strokeLinecap:"butt"}),
      Plot.line(o.p95,{x:d=>d[0],y:d=>d[1],stroke:"#6a51a3",strokeWidth:1.8}),
      Plot.line(o.p5,{x:d=>d[0],y:d=>d[1],stroke:"#1f3b63",strokeWidth:1.8}),
      Plot.dot(ev(o.ev),{x:"d",y:"v",r:"ml",fill:"#d62728",stroke:"#111",strokeWidth:1.1}),
      Plot.arrow(o.arrows,{x1:d=>d[0],y1:d=>d[1],x2:d=>d[2],y2:d=>d[3],stroke:"#000",strokeWidth:3,headLength:7,headAngle:80,bend:0}),
      Plot.text(o.numbers,{x:d=>d[0],y:d=>d[1],text:d=>d[2],fontFamily:"DejaVu Sans",fontWeight:"bold",fontSize:27,fill:"#111"}),
      Plot.text(o.ends,{x:d=>d[0],y:d=>d[1],text:d=>d[2],fontFamily:SERIF,fontWeight:"bold",fontSize:27,fill:"#111"}),
      Plot.text([o.tag],{x:d=>d[0],y:d=>d[1],text:d=>d[2],fontFamily:SERIF,fontWeight:"bold",fontSize:17.5,fill:"#111"}),
      ...axes(o),
      Plot.frame({stroke:"#333",strokeWidth:1.4})
    ]});
}
place(timePanel({height:330,ml:66.5,mt:6.5,mb:52,xDomain:[-32.8,669.9],yDomain:[-5.95,7.29],
  xTicks:[0,100,200,300,400,500,600],yTicks:[-4,-2,0,2,4,6],xMinor:seq(-20,660,20),yMinor:seq(-5.5,7,.5),
  fx:15,fy:15,xLabel:"Time since first event (days)",yLabel:"Distance along dip (km)",xOff:41,yOff:52,
  events:aEvents,dense:aDense,band95:a95Band,band5:a5Band,p95:a95,p5:a5,ev:eventDip,arrows:arrowsA,numbers:numbersA,ends:endsA,
  dash:[[0,0],[636,0]],tag:[-2,5.8,"(a)"]}),0,0,{x:20,y:[20]});
place(timePanel({height:349,ml:77.3,mt:24.7,mb:52.3,xDomain:[-32.2,669.8],yDomain:[-10.8,12],
  xTicks:[0,100,200,300,400,500,600],yTicks:[-10,-5,0,5,10],xMinor:seq(-20,660,20),yMinor:seq(-10,12,1),
  fx:15,fy:15,xLabel:"Time since first event (days)",yLabel:"Distance along strike (km)",xOff:42,yOff:62,
  events:cEvents,dense:cDense,band95:c95Band,band5:c5Band,p95:c95,p5:c5,ev:eventStrike,arrows:arrowsC,numbers:numbersC,ends:endsC,
  dash:[[7.3,0],[628,0]],tag:[-2.3,9.5,"(c)"]}),0,340,{x:20,y:[20]});

function mapPanel(o){
  return Plot.plot({width:330,height:o.height,marginLeft:o.ml,marginRight:o.mr,marginTop:o.mt,marginBottom:o.mb,
    style:{fontFamily:SERIF,background:"transparent"},
    x:{domain:o.xDomain},y:{domain:o.yDomain},
    marks:[
      Plot.gridX({ticks:o.xTicks,...gridS}),Plot.gridY({ticks:o.yTicks,...gridS}),
      Plot.line(o.section,{x:d=>d[0],y:d=>d[1],stroke:"#ffa500",strokeWidth:3.7,strokeDasharray:"15,5",strokeLinecap:"butt"}),
      Plot.line(o.cross,{x:d=>d[0],y:d=>d[1],stroke:"#222",strokeWidth:1.5,strokeDasharray:"8,3",strokeLinecap:"butt"}),
      Plot.text(o.ends,{x:d=>d[0],y:d=>d[1],text:d=>d[2],fontFamily:SERIF,fontWeight:"bold",fontSize:27,fill:"#111"}),
      Plot.text([o.tag],{x:d=>d[0],y:d=>d[1],text:d=>d[2],fontFamily:SERIF,fontWeight:"bold",fontSize:17.5,fill:"#111"}),
      ...axes(o),
      Plot.axisY({anchor:"right",ticks:o.rTicks,tickSize:5,tickPadding:4,fontSize:18,fill:"#222",stroke:"#111",strokeWidth:1.2,
        tickFormat:v=>o.rLabels[o.rTicks.indexOf(v)],label:o.rLabel,labelAnchor:"center",labelArrow:"none",labelOffset:58}),
      Plot.frame({stroke:"#333",strokeWidth:1.4})
    ]});
}
place(mapPanel({height:330,ml:53.3,mr:65.7,mt:15,mb:53.3,xDomain:[72.754,73.049],yDomain:[8,-.47],
  xTicks:[72.8,72.9,73],yTicks:[0,2,4,6,8],xMinor:seq(72.76,73.04,.02),yMinor:seq(0,8,.5),
  xFmt:d3.format(".1f"),yFmt:d3.format("d"),fx:18,fy:18,xLabel:"Longitude",yLabel:"Depth (km)",xOff:45,yOff:43,
  section:sectionB,cross:crossB,ends:endsB,tag:[72.781,.48,"(b)"],rTicks:rightTicksB,rLabels:rightLabelsB,rLabel:"Distance along dip (km)"}),700,0,{x:20,y:[20,18]});
place(mapPanel({height:339,ml:97.7,mr:67.3,mt:23.3,mb:53.7,xDomain:[72.755,73.049],yDomain:[20.0247,20.138],
  xTicks:[72.8,73],yTicks:[20.04,20.06,20.08,20.1,20.12],xMinor:seq(72.8,73,.05),yMinor:seq(20.025,20.135,.005),
  xFmt:d3.format(".1f"),yFmt:d3.format(".2f"),fx:18,fy:17,xLabel:"Longitude",yLabel:"Latitude",xOff:45,yOff:86,
  section:sectionD,cross:crossD,ends:endsD,tag:[72.787,20.1253,"(d)"],rTicks:rightTicksD,rLabels:rightLabelsD,rLabel:"Distance along strike (km)"}),700,350,{x:20,y:[18.5,19]});
</script></body></html>
